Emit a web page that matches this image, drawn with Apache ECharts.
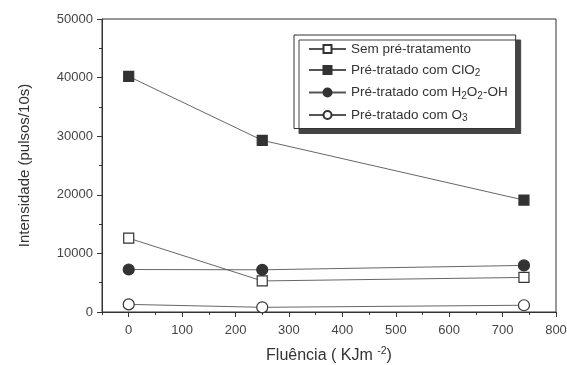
<!DOCTYPE html>
<html><head><meta charset="utf-8">
<script src="https://cdn.jsdelivr.net/npm/echarts@6/dist/echarts.min.js"></script>
<style>html,body{margin:0;padding:0;background:#fff}#c{width:567px;height:365px}</style>
</head><body><div id="c"></div>
<script>
const fluence = [0, 250, 740];
const semPre = [12600, 5300, 5900];
const clo2 = [40200, 29300, 19100];
const h2o2 = [7250, 7200, 7950];
const o3 = [1300, 800, 1150];
const xTicks = [0, 100, 200, 300, 400, 500, 600, 700, 800];
const yTicks = [0, 10000, 20000, 30000, 40000, 50000];
const names = ['Sem pré-tratamento', 'Pré-tratado com ClO2', 'Pré-tratado com H2O2-OH', 'Pré-tratado com O3'];
const legendLabels = {
  'Sem pré-tratamento': 'Sem pré-tratamento',
  'Pré-tratado com ClO2': 'Pré-tratado com ClO{sub|2}',
  'Pré-tratado com H2O2-OH': 'Pré-tratado com H{sub|2}O{sub|2}-OH',
  'Pré-tratado com O3': 'Pré-tratado com O{sub|3}'
};
const ink = '#333';
function pts(v){ return fluence.map((x,i)=>[x, v[i]]); }
function mk(name, data, symbol, filled, size){
  return {
    name, type:'line', data: pts(data), symbol, symbolSize: size,
    lineStyle:{color:'#555', width:0.9},
    itemStyle:{color: filled ? ink : '#fff', borderColor: ink, borderWidth: 1.2},
    emphasis:{disabled:true}, animation:false, z: 3
  };
}
const chart = echarts.init(document.getElementById('c'), null, {renderer:'canvas'});
chart.setOption({
  animation:false,
  textStyle:{fontFamily:'Liberation Sans, Arial, sans-serif'},
  grid:{left:102, right:11, top:19, bottom:53, outerBoundsMode:'none', containLabel:false,
        show:true, borderColor:ink, borderWidth:1, backgroundColor:'transparent'},
  legend:{
    data: names, orient:'vertical', left:294, top:35,
    padding:[7,8,5,14], itemGap:7, itemWidth:37, itemHeight:10,
    backgroundColor:'#fff', borderColor:ink, borderWidth:1,
    shadowColor:'#444', shadowBlur:0, shadowOffsetX:5, shadowOffsetY:5,
    formatter: n => legendLabels[n],
    textStyle:{fontSize:13.5, color:'#333', rich:{sub:{fontSize:10, verticalAlign:'bottom', padding:[7,0,0,0], color:'#333'}}},
    selectedMode:false
  },
  xAxis:[{
    type:'value', min:-50, max:800, position:'bottom',
    axisLine:{show:true, onZero:false, lineStyle:{color:ink, width:1}},
    axisTick:{show:true, customValues: xTicks, length:5, lineStyle:{color:ink}},
    axisLabel:{customValues: xTicks, fontSize:13, color:'#444', margin:12},
    splitLine:{show:false},
    name:'Fluência ( KJm {sup|-2})', nameLocation:'middle', nameGap:34,
    nameTextStyle:{fontSize:16, color:'#333', rich:{sup:{fontSize:10.5, verticalAlign:'top', padding:[0,0,8,0], color:'#333'}}}
  },{
    type:'value', min:-50, max:800, interval:50, position:'bottom',
    axisLine:{show:false, onZero:false}, axisTick:{show:true, length:3, lineStyle:{color:ink}},
    axisLabel:{show:false}, splitLine:{show:false}
  }],
  yAxis:{
    type:'value', min:0, max:50000, interval:10000,
    axisLine:{show:true, onZero:false, lineStyle:{color:ink, width:1}},
    axisTick:{show:true, length:5, lineStyle:{color:ink}},
    minorTick:{show:true, splitNumber:2, length:3, lineStyle:{color:ink}},
    axisLabel:{fontSize:13, color:'#444', margin:9, formatter: v => String(v)},
    splitLine:{show:false},
    name:'Intensidade (pulsos/10s)', nameLocation:'middle', nameGap:70,
    nameTextStyle:{fontSize:15, color:'#333'}
  },
  series:[
    mk(names[0], semPre, 'rect', false, 10),
    mk(names[1], clo2, 'rect', true, 10),
    mk(names[2], h2o2, 'circle', true, 11),
    mk(names[3], o3, 'circle', false, 11)
  ]
});
</script></body></html>
